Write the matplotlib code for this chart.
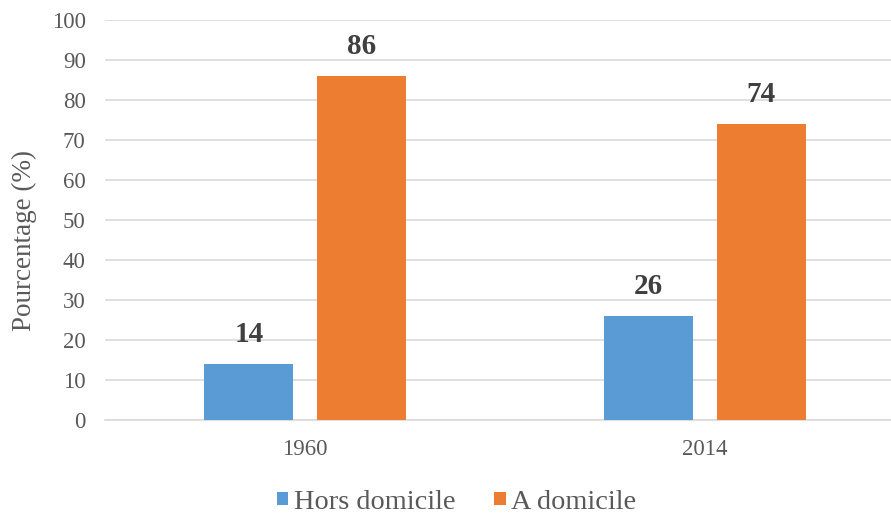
import matplotlib.pyplot as plt
import numpy as np

years = ['1960', '2014']
hors_domicile = [14, 26]
a_domicile = [86, 74]

BLUE = '#5b9bd5'
ORANGE = '#ed7d31'
GREY = '#595959'

plt.rcParams['font.family'] = ['Liberation Serif', 'DejaVu Serif']

fig = plt.figure(figsize=(8.91, 5.16), dpi=100)
ax = fig.add_axes([0.118, 0.186, 0.882, 0.775])

x = np.arange(len(years))
w = 0.2225
off = 0.141
b1 = ax.bar(x - off, hors_domicile, w, color=BLUE, label='Hors domicile', zorder=3)
b2 = ax.bar(x + off, a_domicile, w, color=ORANGE, label='A domicile', zorder=3)

for bars in (b1, b2):
    for rect in bars:
        h = rect.get_height()
        ax.text(rect.get_x() + rect.get_width() / 2, h + 4, '%d' % h,
                ha='center', va='bottom', fontsize=21, fontweight='bold',
                color='#404040')

ax.set_ylim(0, 100)
ax.set_yticks(range(0, 101, 10))
ax.set_xlim(-0.5, 1.465)
ax.set_xticks(x)
ax.set_xticklabels(years)
ax.grid(axis='y', color='#d9d9d9', lw=1.2, zorder=0)
for s in ['top', 'right', 'left']:
    ax.spines[s].set_visible(False)
ax.spines['bottom'].set_color('#d9d9d9')
ax.spines['bottom'].set_linewidth(1.2)
ax.tick_params(length=0, labelsize=16.5, labelcolor=GREY)
ax.tick_params(axis='x', pad=14)
ax.tick_params(axis='y', pad=14)
ax.set_ylabel('Pourcentage (%)', fontsize=19.5, color=GREY)
ax.yaxis.set_label_coords(-0.087, 0.45)

ax.legend(loc='center', bbox_to_anchor=(0.447, -0.205), ncol=2, frameon=False,
          fontsize=20.4, labelcolor=GREY, handlelength=0.42, handleheight=0.32,
          handletextpad=0.18, columnspacing=1.38)

fig.savefig('out.png', dpi=100)
